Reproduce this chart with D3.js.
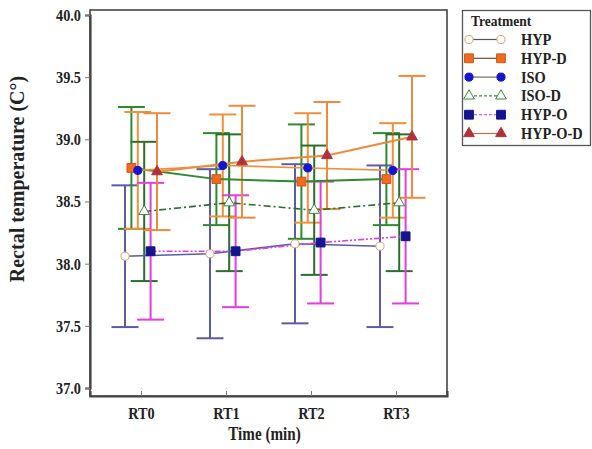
<!DOCTYPE html>
<html>
<head>
<meta charset="utf-8">
<script src="https://cdn.jsdelivr.net/npm/d3@7"></script>
<style>
  body { margin: 0; background: #fff; }
  svg { display: block; font-family: "Liberation Serif", "Times New Roman", serif; }
</style>
</head>
<body>
<svg width="592" height="449"></svg>
<script>
// time points
const categories = ["RT0", "RT1", "RT2", "RT3"];
const yTicks = [37.0, 37.5, 38.0, 38.5, 39.0, 39.5, 40.0];

// means and error bar half-lengths
const names = ["HYP", "HYP-D", "ISO", "ISO-D", "HYP-O", "HYP-O-D"];
const hyp = [38.06, 38.08, 38.16, 38.14];
const hypErr = [0.57, 0.68, 0.64, 0.65];
const hypD = [38.77, 38.68, 38.66, 38.68];
const hypDErr = [0.49, 0.37, 0.46, 0.37];
const iso = [38.75, 38.79, 38.77, 38.75];
const isoErr = [0.47, 0.41, 0.44, 0.38];
const isoD = [38.42, 38.49, 38.43, 38.49];
const isoDErr = [0.56, 0.55, 0.52, 0.55];
const hypO = [38.10, 38.10, 38.17, 38.22];
const hypOErr = [0.55, 0.45, 0.49, 0.54];
const hypOD = [38.74, 38.82, 38.87, 39.02];
const hypODErr = [0.47, 0.45, 0.43, 0.49];

// the source picture is a bit squeezed sideways, so squeeze text too
const squeeze = (sel, k) => sel.each(function () {
    const len = this.getComputedTextLength();
    d3.select(this).attr("textLength", len * k).attr("lengthAdjust", "spacingAndGlyphs");
});

const chart = () => {
    const margin = {top: 10, right: 145, bottom: 53, left: 90};
    const width = 592, height = 449;
    const svg = d3.select("svg");

    // style per series
    const styles = {
        "HYP":     {line: "#5b5ba6", dash: null, lw: 1.6, shape: "circle", fill: "#fff", stroke: "#e0a070", legLine: "#555"},
        "HYP-D":   {line: "#2f8a2f", dash: null, lw: 2, shape: "square", fill: "#f26a1b", stroke: "#c55a20", legLine: "#7a4a2a"},
        "ISO":     {line: "#f0903a", dash: null, lw: 1.6, shape: "circle", fill: "#1515d0", stroke: "#1515d0", legLine: "#7a6a50"},
        "ISO-D":   {line: "#2a6f2a", dash: "7,3,2,3", lw: 1.6, shape: "triangle", fill: "#fff", stroke: "#3a8a3a", legLine: "#3a8a3a"},
        "HYP-O":   {line: "#e23ce2", dash: "6,2,2,2,2,2", lw: 1.6, shape: "square", fill: "#14148c", stroke: "#14148c", legLine: "#e060e0"},
        "HYP-O-D": {line: "#ee8a3c", dash: null, lw: 2, shape: "triangle", fill: "#b0303c", stroke: "#b0303c", legLine: "#c07040"}
    };

    const series = [
        {name: "HYP", values: hyp, errs: hypErr},
        {name: "HYP-D", values: hypD, errs: hypDErr},
        {name: "ISO", values: iso, errs: isoErr},
        {name: "ISO-D", values: isoD, errs: isoDErr},
        {name: "HYP-O", values: hypO, errs: hypOErr},
        {name: "HYP-O-D", values: hypOD, errs: hypODErr}
    ].map(s => ({...s, points: s.values.map((v, i) => ({cat: categories[i], v: v, e: s.errs[i]}))}));

    const x = d3.scalePoint()
        .domain(categories)
        .range([margin.left, width - margin.right])
        .padding(0.6);

    const offset = d3.scalePoint()
        .domain(names)
        .range([-16, 16]);

    const y = d3.scaleLinear()
        .domain([37, 40])
        .range([height - margin.bottom - 8, margin.top + 5]);

    const px = (s, d) => x(d.cat) + offset(s.name);

    // frame
    svg.append("rect")
        .attr("x", margin.left)
        .attr("y", margin.top)
        .attr("width", width - margin.right - margin.left)
        .attr("height", height - margin.bottom - margin.top)
        .attr("fill", "none")
        .attr("stroke", "#444")
        .attr("stroke-width", 1.6);

    // y axis
    const yAxis = g => g
        .attr("transform", `translate(${margin.left},0)`)
        .call(d3.axisLeft(y).tickValues(yTicks).tickFormat(d3.format(".1f")).tickSize(5).tickPadding(4))
        .call(g => g.select(".domain").attr("stroke", "#444").attr("stroke-width", 2.2))
        .call(g => g.selectAll(".tick line").attr("stroke", "#777"))
        .call(g => g.selectAll("text").attr("fill", "#222").style("font", "bold 17px 'Liberation Serif', serif"));

    // x axis, ticks pointing inward
    const xAxis = g => g
        .attr("transform", `translate(0,${height - margin.bottom})`)
        .call(d3.axisBottom(x).tickSize(-5).tickPadding(11))
        .call(g => g.select(".domain").attr("stroke", "#444").attr("stroke-width", 2.2))
        .call(g => g.selectAll(".tick line").attr("stroke", "#777"))
        .call(g => g.selectAll("text").attr("fill", "#222").style("font", "bold 17px 'Liberation Serif', serif"));

    svg.append("g").call(yAxis).selectAll("text").call(squeeze, 0.84);
    svg.append("g").call(xAxis).selectAll("text").call(squeeze, 0.84);

    // error bars
    const cap = 13.5;
    const eb = svg.append("g");
    series.forEach(s => {
        const st = styles[s.name];
        const g = eb.append("g").attr("stroke", st.line).attr("stroke-width", 2).attr("fill", "none");
        g.selectAll(".v").data(s.points).enter().append("line")
            .attr("x1", d => px(s, d)).attr("x2", d => px(s, d))
            .attr("y1", d => y(d.v + d.e)).attr("y2", d => y(d.v - d.e));
        g.selectAll(".t").data(s.points).enter().append("line")
            .attr("x1", d => px(s, d) - cap).attr("x2", d => px(s, d) + cap)
            .attr("y1", d => y(d.v + d.e)).attr("y2", d => y(d.v + d.e));
        g.selectAll(".b").data(s.points).enter().append("line")
            .attr("x1", d => px(s, d) - cap).attr("x2", d => px(s, d) + cap)
            .attr("y1", d => y(d.v - d.e)).attr("y2", d => y(d.v - d.e));
    });

    // lines
    const line = s => d3.line().x(d => px(s, d)).y(d => y(d.v));
    series.forEach(s => {
        const st = styles[s.name];
        svg.append("path")
            .datum(s.points)
            .attr("fill", "none")
            .attr("stroke", st.line)
            .attr("stroke-width", st.lw)
            .attr("stroke-dasharray", st.dash)
            .attr("d", line(s));
    });

    // marker drawing
    const symbolFor = {
        circle: d3.symbol().type(d3.symbolCircle).size(52),
        square: d3.symbol().type(d3.symbolSquare).size(78),
        triangle: d3.symbol().type(d3.symbolTriangle).size(50)
    };
    const drawMarker = (g, st, cx, cy) => g.append("path")
        .attr("transform", `translate(${cx},${cy})`)
        .attr("d", symbolFor[st.shape]())
        .attr("fill", st.fill)
        .attr("stroke", st.stroke)
        .attr("stroke-width", 1);

    const mk = svg.append("g");
    series.forEach(s => {
        const st = styles[s.name];
        s.points.forEach(d => drawMarker(mk, st, px(s, d), y(d.v)));
    });

    // axis titles
    svg.append("text")
        .attr("transform", `translate(24,179) rotate(-90)`)
        .attr("text-anchor", "middle")
        .attr("fill", "#222")
        .style("font", "bold 20px 'Liberation Serif', serif")
        .text("Rectal temperature (C°)");

    svg.append("text")
        .attr("x", (margin.left + width - margin.right) / 2 - 4)
        .attr("y", 440)
        .attr("text-anchor", "middle")
        .attr("fill", "#222")
        .style("font", "bold 18px 'Liberation Serif', serif")
        .text("Time (min)")
        .call(squeeze, 0.84);

    // legend
    const lg = svg.append("g");
    lg.append("rect")
        .attr("x", 462.5).attr("y", 10.5)
        .attr("width", 128).attr("height", 135)
        .attr("fill", "#fff").attr("stroke", "#555").attr("stroke-width", 1.3);
    lg.append("text")
        .attr("x", 471).attr("y", 26)
        .attr("fill", "#222")
        .style("font", "bold 15px 'Liberation Serif', serif")
        .text("Treatment")
        .call(squeeze, 0.9);
    names.forEach((n, i) => {
        const st = styles[n];
        const ly = 39.5 + i * 18.8;
        lg.append("line")
            .attr("x1", 469).attr("x2", 501).attr("y1", ly).attr("y2", ly)
            .attr("stroke", st.legLine).attr("stroke-width", 1.2)
            .attr("stroke-dasharray", st.dash ? "3,2" : null);
        drawMarker(lg, st, 469, ly);
        drawMarker(lg, st, 501, ly);
        lg.append("text")
            .attr("x", 521).attr("y", ly + 5.5)
            .attr("fill", "#222")
            .style("font", "bold 16px 'Liberation Serif', serif")
            .text(n)
            .call(squeeze, 0.9);
    });
};

chart();
</script>
</body>
</html>
